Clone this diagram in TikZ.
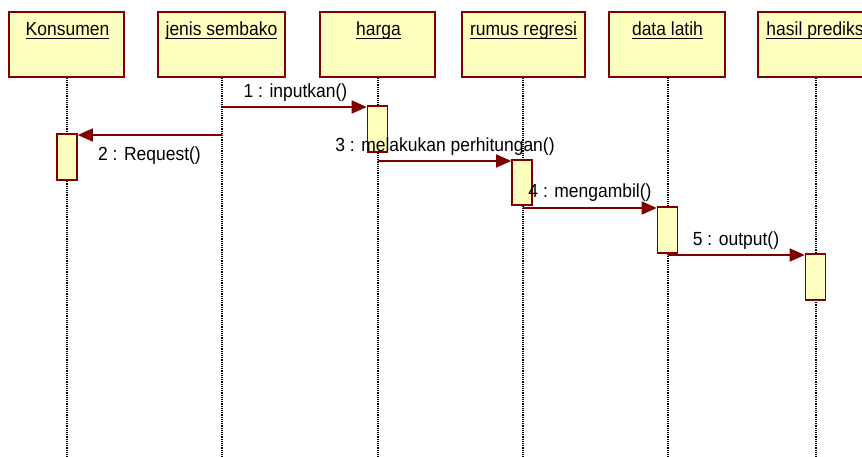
\documentclass[tikz,border=0pt]{standalone}
\usepackage{fontspec}
\setmainfont[FakeStretch=0.92]{Liberation Sans}
\usetikzlibrary{arrows.meta}
\definecolor{umlred}{RGB}{128,0,0}
\definecolor{umlfill}{RGB}{255,255,192}
\newcommand\uln[1]{\setbox0\hbox{#1}\rlap{\rule[-3pt]{\wd0}{1.1pt}}\box0}
\begin{document}
\begin{tikzpicture}[x=1pt,y=-1pt,
  objbox/.style={draw=umlred, fill=umlfill, line width=1.6pt, minimum width=#1, minimum height=65pt, inner sep=0pt},
  actbox/.style={draw=umlred, fill=umlfill, line width=1.6pt, minimum width=20pt, minimum height=46pt, inner sep=0pt},
  objlabel/.style={anchor=base, inner sep=0pt, font=\fontsize{19}{22}\selectfont},
  msglabel/.style={anchor=base, inner sep=0pt, font=\fontsize{19}{22}\selectfont},
  lifeline/.style={draw=black, line width=1.1pt, dash pattern=on 1.2pt off 1pt},
  msg/.style={draw=umlred, line width=1.6pt, -{Triangle[length=15pt,width=13pt]}}
]
\useasboundingbox (0,0) rectangle (862,457);
\clip (0,0) rectangle (862,457);
\fill[white] (0,0) rectangle (862,457);

% object heads
\node[objbox=115pt] (konsumen) at (66.5,44.5) {};
\node[objbox=127pt] (jenis) at (221.5,44.5) {};
\node[objbox=115pt] (harga) at (377.5,44.5) {};
\node[objbox=123pt] (rumus) at (523.5,44.5) {};
\node[objbox=116pt] (data) at (667,44.5) {};
\node[objbox=118pt] (hasil) at (817,44.5) {};

\node[objlabel] (tkonsumen) at (67.5,36) {\uln{Konsumen}};
\node[objlabel] (tjenis) at (221.5,36) {\uln{jenis sembako}};
\node[objlabel] (tharga) at (378.5,36) {\uln{harga}};
\node[objlabel] (trumus) at (523.5,36) {\uln{rumus regresi}};
\node[objlabel] (tdata) at (667.5,36) {\uln{data latih}};
\node[objlabel] (thasil) at (817,36) {\uln{hasil prediksi}};

% lifeline ends
\coordinate (endk) at (67,457);
\coordinate (endj) at (222,457);
\coordinate (endh) at (378,457);
\coordinate (endr) at (523,457);
\coordinate (endd) at (668,457);
\coordinate (endp) at (816,457);

\draw[lifeline] (konsumen.south -| endk) -- (endk);
\draw[lifeline] (jenis.south -| endj) -- (endj);
\draw[lifeline] (harga.south -| endh) -- (endh);
\draw[lifeline] (rumus.south -| endr) -- (endr);
\draw[lifeline] (data.south -| endd) -- (endd);
\draw[lifeline] (hasil.south -| endp) -- (endp);

% activations
\node[actbox] (actk) at (67,157) {};
\node[actbox] (acth) at (377.5,129) {};
\node[actbox, minimum height=45pt] (actr) at (522,182.5) {};
\node[actbox] (actd) at (667.5,230) {};
\node[actbox] (actp) at (815.5,277) {};

% message start points
\coordinate (s1) at (222,107);
\coordinate (s2) at (222,135);
\coordinate (s3) at (378,161);
\coordinate (s4) at (523,208);
\coordinate (s5) at (668,255);

\draw[msg] (s1) -- (s1 -| acth.west);
\draw[msg] (s2) -- (s2 -| actk.east);
\draw[msg] (s3) -- (s3 -| actr.west);
\draw[msg] (s4) -- (s4 -| actd.west);
\draw[msg] (s5) -- (s5 -| actp.west);

\node[msglabel] (l1) at (295.5,98) {1 : inputkan()};
\node[msglabel] (l2) at (149.5,161) {2 : Request()};
\node[msglabel] (l3) at (445,152) {3 : melakukan perhitungan()};
\node[msglabel] (l4) at (590,198) {4 : mengambil()};
\node[msglabel] (l5) at (736,245) {5 : output()};
\end{tikzpicture}
\end{document}
